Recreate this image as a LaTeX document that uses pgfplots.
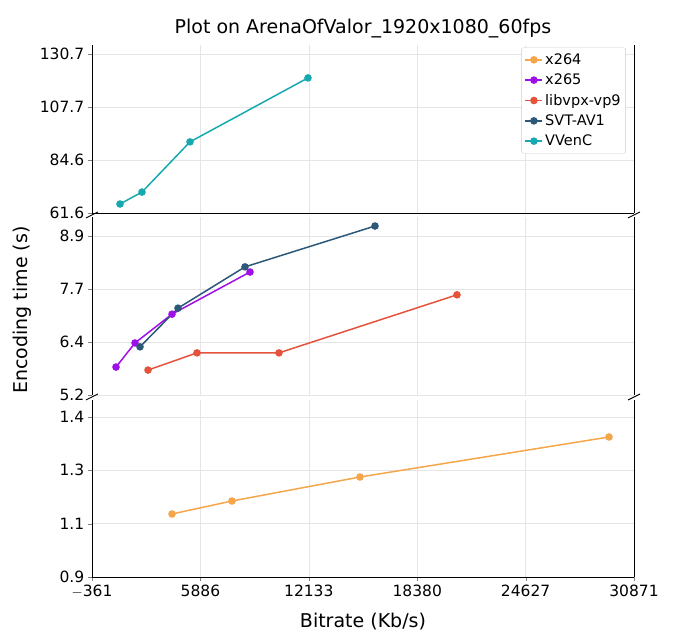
\documentclass[border=0pt]{standalone}
\usepackage{pgfplots}
\pgfplotsset{compat=1.18}
\usepackage{fontspec}
\setmainfont{DejaVu Sans}
\definecolor{cA}{RGB}{245,166,75}
\definecolor{cB}{RGB}{157,16,232}
\definecolor{cC}{RGB}{229,83,61}
\definecolor{cD}{RGB}{45,88,120}
\definecolor{cE}{RGB}{23,169,176}
\pgfplotsset{
 base/.style={scale only axis, width=542pt, xmin=-361, xmax=30871,
  xtick={-361,5886,12133,18380,24627,30871},
  xticklabels={$-$361,5886,12133,18380,24627,30871},
  scaled x ticks=false,
  /pgf/number format/assume math mode=true,
  grid=major, grid style={gray!20,line width=0.5pt},
  tick align=outside, ytick pos=left, xtick pos=bottom,
  axis y line*=box,
  tick label style={font=\fontsize{15.5}{18}\selectfont},
  every axis plot/.append style={line width=1.5pt, mark=*, mark size=3pt},
 }
}
\begin{document}
\begin{tikzpicture}[x=1pt,y=1pt]
\path[use as bounding box] (0,0) rectangle (674,644);
% bottom
\begin{axis}[base, at={(92pt,67pt)}, anchor=south west, height=177pt,
 ymin=0.94, ymax=1.471, ytick={0.94,1.1,1.26,1.42}, yticklabels={0.9,1.1,1.3,1.4},
 axis x line*=bottom]
\addplot[color=cA] coordinates {(4249,1.129)(7706,1.168)(15081,1.24)(29430,1.36)};
\end{axis}
% middle
\begin{axis}[base, at={(92pt,249pt)}, anchor=south west, height=178pt,
 ymin=5.2, ymax=9.34, ytick={5.2,6.433,7.667,8.9}, yticklabels={5.2,6.4,7.7,8.9},
 axis x line*=bottom, x axis line style={draw=none}, xticklabels={}, xtick style={draw=none}]
\addplot[color=cB] coordinates {(1022,5.85)(2117,6.41)(4249,7.08)(8743,8.06)};
\addplot[color=cC] coordinates {(2866,5.78)(5689,6.18)(10414,6.18)(20670,7.53)};
\addplot[color=cD] coordinates {(2405,6.32)(4595,7.22)(8455,8.18)(15946,9.13)};
\end{axis}
% top
\begin{axis}[base, at={(92pt,431pt)}, anchor=south west, height=168pt,
 ymin=61.6, ymax=134.6, ytick={61.6,84.633,107.667,130.7}, yticklabels={61.6,84.6,107.7,130.7},
 axis x line*=top, xticklabels={}, xtick style={draw=none},
 title={Plot on ArenaOfValor\_1920x1080\_60fps}, title style={font=\fontsize{19}{22}\selectfont, yshift=-3pt},
 legend style={at={(0.985,0.985)}, anchor=north east, font=\fontsize{14.5}{18}\selectfont, draw=gray!40, rounded corners=2pt, row sep=4pt, inner ysep=4pt},
 legend cell align=left]
\addlegendimage{color=cA, line width=1.5pt, mark=*, mark size=3pt}\addlegendentry{x264}
\addlegendimage{color=cB, line width=1.5pt, mark=*, mark size=3pt}\addlegendentry{x265}
\addlegendimage{color=cC, line width=1.5pt, mark=*, mark size=3pt}\addlegendentry{libvpx-vp9}
\addlegendimage{color=cD, line width=1.5pt, mark=*, mark size=3pt}\addlegendentry{SVT-AV1}
\addplot[color=cE] coordinates {(1252,65.5)(2520,70.7)(5286,92.5)(12085,120.3)};
\addlegendentry{VVenC}
\end{axis}
% break marks
\foreach \yy in {429,247} {
 \draw[line width=0.9pt] (86,\yy-3) -- (98,\yy+3);
 \draw[line width=0.9pt] (628,\yy-3) -- (640,\yy+3);
}
\node[rotate=90, font=\fontsize{19}{22}\selectfont] at (22,334) {Encoding time (s)};
\node[font=\fontsize{19}{22}\selectfont] at (363,22) {Bitrate (Kb/s)};
\end{tikzpicture}
\end{document}
